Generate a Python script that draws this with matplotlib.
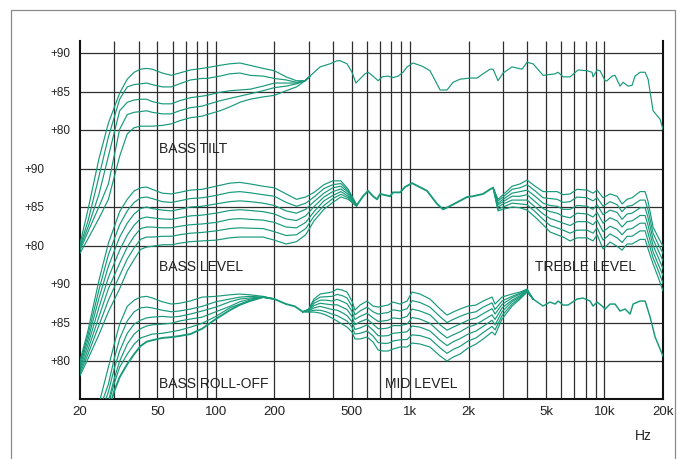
import matplotlib
matplotlib.use('Agg')
import matplotlib.pyplot as plt
import matplotlib.transforms as mtransforms
import numpy as np

plt.rcParams['font.family'] = ['Liberation Sans', 'DejaVu Sans']

GREEN = '#17997a'
GRID = '#2e2e2e'

# ── Data (dB) ─────────────────────────────────────────────────────────────────
# top panel: BASS TILT
TILT_HZ = [20, 22, 25, 28, 32, 35, 38, 41, 44, 47, 53, 59, 65, 74, 85, 90, 105, 118, 133, 150, 175, 200, 230, 260, 288]
TILT_A = [65.2, 69.7, 76.2, 80.9, 84.8, 86.6, 87.5, 87.9, 88.0, 87.9, 87.4, 87.1, 87.4, 87.8, 88.0, 88.1, 88.4, 88.6, 88.7, 88.4, 88.0, 87.7, 86.9, 86.4, 86.4]
TILT_B = [64.9, 68.2, 73.9, 79.1, 84.0, 85.6, 85.9, 86.0, 86.1, 85.9, 85.6, 85.6, 86.0, 86.5, 86.7, 86.7, 87.0, 87.3, 87.4, 87.1, 87.0, 86.7, 86.5, 86.2, 86.4]
TILT_C = [64.7, 67.4, 71.6, 76.6, 82.5, 83.6, 83.9, 84.0, 84.0, 83.7, 83.4, 83.4, 83.8, 84.2, 84.4, 84.5, 84.9, 85.1, 85.2, 85.3, 85.7, 86.1, 86.1, 86.1, 86.4]
TILT_D = [64.4, 66.8, 70.0, 73.0, 80.1, 82.0, 82.3, 82.4, 82.5, 82.3, 82.1, 82.1, 82.5, 82.9, 83.1, 83.3, 83.8, 84.1, 84.4, 84.7, 85.1, 85.5, 85.7, 86.0, 86.4]
TILT_E = [64.0, 65.9, 68.5, 71.0, 76.6, 79.5, 80.3, 80.5, 80.5, 80.5, 80.6, 80.8, 81.2, 81.6, 81.8, 82.0, 82.5, 83.0, 83.6, 84.0, 84.3, 84.5, 85.1, 85.6, 86.4]

TOP_HZ = [305, 344, 387, 421, 436, 473, 502, 526, 540, 586, 607, 644, 684, 717, 770, 816, 867, 919, 964, 1035,
          1151, 1265, 1426, 1548, 1663, 1806, 2033, 2209, 2373, 2578, 2671, 2832, 3007, 3345, 3767, 3997, 4290, 4831,
          5568, 5772, 6126, 6651, 7312, 8134, 8630, 8730, 9162, 9488, 10070, 10308, 10940, 11328, 12020, 12460,
          13220, 13860, 14360, 15240, 16180, 16760, 17780, 19320, 20000]
TOP_DB = [87.0, 88.2, 88.6, 89.0, 89.0, 88.6, 87.5, 86.1, 86.4, 87.3, 87.5, 87.0, 86.4, 86.9, 87.0, 86.8, 87.0, 87.5, 88.2, 88.7,
          88.3, 87.7, 85.2, 85.2, 86.2, 86.6, 86.75, 86.75, 87.3, 87.9, 87.9, 86.4, 87.4, 88.2, 87.9, 88.8, 88.6, 87.1,
          87.3, 87.5, 86.9, 86.9, 87.8, 87.7, 87.5, 86.9, 87.8, 87.7, 86.4, 86.4, 87.0, 87.1, 85.7, 86.2,
          85.7, 85.8, 87.0, 87.5, 87.5, 86.6, 82.5, 81.4, 80.1]

# middle panel: BASS LEVEL / TREBLE LEVEL
BL_HZ = [20, 22, 25, 28, 32, 35, 38, 41, 44, 47, 53, 59, 65, 74, 85, 100, 118, 133, 150, 175, 200, 230, 260, 290, 320, 360, 400, 440, 480, 530]
BL_1 = [65.0, 69.0, 75.4, 80.3, 84.4, 86.0, 87.1, 87.5, 87.6, 87.3, 86.8, 86.7, 86.9, 87.2, 87.3, 87.7, 88.1, 88.2, 88.0, 87.7, 87.5, 86.7, 86.0, 86.3, 86.9, 87.9, 88.4, 88.4, 87.3, 85.3]
BL_2 = [64.7, 68.4, 74.2, 78.8, 82.7, 84.5, 85.6, 86.2, 86.3, 86.1, 85.7, 85.6, 85.8, 86.1, 86.2, 86.5, 86.9, 87.0, 86.85, 86.6, 86.4, 85.6, 85.1, 85.5, 86.3, 87.4, 87.9, 88.05, 87.1, 85.3]
BL_3 = [64.4, 67.8, 73.1, 77.3, 81.1, 82.9, 84.1, 84.8, 85.0, 84.8, 84.6, 84.5, 84.7, 85.0, 85.1, 85.4, 85.7, 85.8, 85.7, 85.5, 85.2, 84.5, 84.2, 84.7, 85.7, 86.8, 87.5, 87.7, 86.9, 85.2]
BL_4 = [64.05, 67.15, 71.9, 75.85, 79.4, 81.35, 82.65, 83.5, 83.7, 83.6, 83.45, 83.4, 83.6, 83.85, 83.95, 84.2, 84.55, 84.65, 84.55, 84.4, 84.1, 83.45, 83.25, 83.85, 85.05, 86.3, 87.0, 87.35, 86.65, 85.2]
BL_5 = [63.7, 66.5, 70.7, 74.4, 77.7, 79.8, 81.2, 82.2, 82.4, 82.4, 82.3, 82.3, 82.5, 82.7, 82.8, 83.0, 83.4, 83.5, 83.4, 83.3, 83.0, 82.4, 82.3, 83.0, 84.4, 85.8, 86.5, 87.0, 86.4, 85.15]
BL_6 = [63.4, 65.9, 69.6, 72.9, 76.1, 78.25, 79.7, 80.8, 81.1, 81.1, 81.2, 81.2, 81.4, 81.6, 81.7, 81.9, 82.2, 82.3, 82.25, 82.2, 81.8, 81.3, 81.4, 82.2, 83.8, 85.2, 86.1, 86.65, 86.2, 85.1]
BL_7 = [63.1, 65.3, 68.4, 71.4, 74.4, 76.7, 78.2, 79.5, 79.8, 79.9, 80.1, 80.1, 80.3, 80.5, 80.6, 80.7, 81.0, 81.1, 81.1, 81.1, 80.7, 80.2, 80.5, 81.4, 83.2, 84.7, 85.6, 86.3, 86.0, 85.1]

MID_HZ = [530, 572, 607, 644, 676, 700, 788, 816, 887, 941, 1023, 1098, 1221, 1376, 1477, 1567, 1742, 1962, 2106, 2373, 2578, 2671]
MID_DB = [85.2, 86.4, 87.1, 86.4, 86.0, 86.7, 86.4, 86.9, 86.9, 87.6, 88.1, 87.7, 87.1, 85.4, 84.7, 85.0, 85.6, 86.3, 86.4, 86.7, 87.3, 87.5]

TR_HZ = [2832, 3007, 3345, 3678, 3997, 4393, 4831, 5248, 5702, 6126, 6651, 7226, 8134, 8730, 9162, 9834, 10684,
         11608, 12316, 13070, 13860, 15240, 16180, 16760, 17780, 18872, 20000]
TR_1 = [86.0, 86.6, 87.7, 88.0, 88.5, 87.7, 87.0, 87.0, 87.0, 86.6, 86.7, 87.3, 87.2, 86.8, 87.2, 86.2, 86.7, 86.4, 85.4, 86.0, 86.2, 87.0, 87.0, 85.7, 82.4, 81.1, 79.9]
TR_2 = [85.8, 86.3, 87.3, 87.5, 87.9, 87.1, 86.2, 86.1, 86.0, 85.6, 85.7, 86.3, 86.2, 85.8, 86.2, 85.1, 85.7, 85.3, 84.4, 85.1, 85.2, 85.9, 85.9, 84.6, 81.6, 80.2, 79.0]
TR_3 = [85.5, 86.0, 86.8, 87.0, 87.2, 86.4, 85.5, 85.2, 85.1, 84.7, 84.7, 85.2, 85.1, 84.7, 85.3, 84.0, 84.6, 84.3, 83.4, 84.1, 84.2, 84.9, 84.9, 83.6, 80.8, 79.4, 78.0]
TR_4 = [85.3, 85.7, 86.4, 86.4, 86.6, 85.7, 84.8, 84.4, 84.2, 83.8, 83.6, 84.2, 84.1, 83.7, 84.3, 82.9, 83.6, 83.2, 82.4, 83.1, 83.2, 83.9, 83.9, 82.6, 80.0, 78.5, 77.0]
TR_5 = [85.0, 85.4, 85.9, 85.9, 85.9, 85.0, 84.1, 83.5, 83.2, 82.9, 82.6, 83.1, 83.1, 82.7, 83.3, 81.8, 82.5, 82.1, 81.4, 82.1, 82.2, 82.9, 82.9, 81.6, 79.2, 77.6, 76.1]
TR_6 = [84.7, 85.0, 85.5, 85.4, 85.3, 84.4, 83.4, 82.6, 82.3, 82.0, 81.6, 82.0, 82.0, 81.6, 82.3, 80.7, 81.5, 81.0, 80.4, 81.2, 81.2, 81.9, 81.9, 80.6, 78.4, 76.8, 75.1]
TR_7 = [84.5, 84.7, 85.0, 84.9, 84.6, 83.7, 82.7, 81.75, 81.4, 81.1, 80.6, 81.0, 81.0, 80.6, 81.4, 79.55, 80.45, 79.9, 79.4, 80.2, 80.2, 80.8, 80.8, 79.55, 77.6, 75.9, 74.1]

# bottom panel: BASS ROLL-OFF / MID LEVEL
RO_HZ = [20, 25, 28, 30, 32, 35, 38, 41, 44, 47, 53, 59, 65, 74, 85, 100, 118, 133, 150, 175]
RO_1 = [66.6, 74.4, 79.2, 82.2, 84.8, 87.1, 87.9, 88.3, 88.4, 88.2, 87.7, 87.4, 87.5, 87.8, 88.3, 88.4, 88.6, 88.7, 88.6, 88.4]
RO_2 = [64.7, 73.5, 77.0, 80.3, 82.9, 85.2, 86.4, 86.9, 87.0, 86.9, 86.6, 86.4, 86.5, 86.75, 87.1, 87.7, 88.05, 88.3, 88.4, 88.3]
RO_3 = [63.4, 72.5, 76.0, 79.0, 81.3, 83.6, 84.8, 85.3, 85.6, 85.7, 85.8, 85.7, 85.8, 86.1, 86.5, 87.0, 87.7, 88.05, 88.2, 88.3]
RO_4 = [62.1, 71.8, 74.8, 77.7, 80.0, 82.2, 83.5, 84.2, 84.55, 84.7, 84.8, 84.9, 85.2, 85.45, 85.7, 86.4, 87.1, 87.7, 88.05, 88.3]
RO_5 = [60.8, 71.2, 74.4, 77.1, 79.2, 80.9, 82.2, 83.0, 83.25, 83.5, 83.6, 83.8, 84.0, 84.4, 84.9, 85.8, 86.9, 87.4, 87.9, 88.3]
RO_6 = [59.5, 69.9, 73.5, 76.1, 77.9, 79.6, 80.9, 81.95, 82.5, 82.7, 83.0, 83.1, 83.25, 83.5, 84.2, 85.45, 86.6, 87.3, 87.8, 88.3]

LOW_HZ = [175, 200, 230, 255, 280]
LOW_DB = [88.3, 88.05, 87.4, 87.1, 86.4]

ML_HZ = [280, 300, 320, 344, 369, 396, 421, 446, 473, 502, 520, 552, 600, 644, 684, 725, 770, 816, 887, 964, 1023,
         1124, 1265, 1426, 1548, 1663, 1806, 1986, 2183, 2373, 2638, 2734, 2970, 3345, 3678, 3997, 4290]
ML_1 = [86.4, 86.75, 88.05, 88.7, 88.83, 88.96, 89.35, 89.22, 88.96, 87.79, 86.62, 87.27, 87.79, 87.14, 87.01, 87.14, 87.27, 87.66, 87.4, 87.79, 88.96,
        88.7, 88.05, 86.75, 85.97, 86.36, 86.75, 87.14, 87.27, 87.79, 88.31, 87.4, 88.31, 88.7, 88.96, 89.35, 88.05]
ML_2 = [86.4, 86.7, 87.8, 88.3, 88.35, 88.4, 88.65, 88.5, 88.2, 87.1, 86.0, 86.5, 87.0, 86.4, 86.1, 86.2, 86.3, 86.65, 86.5, 86.8, 87.85,
        87.6, 87.0, 85.75, 85.0, 85.4, 85.8, 86.2, 86.4, 87.0, 87.55, 86.7, 87.8, 88.4, 88.8, 89.3, 88.05]
ML_3 = [86.4, 86.6, 87.5, 87.9, 87.9, 87.8, 88.0, 87.75, 87.45, 86.45, 85.4, 85.8, 86.2, 85.6, 85.15, 85.2, 85.3, 85.6, 85.5, 85.8, 86.75,
        86.5, 86.0, 84.7, 84.0, 84.4, 84.8, 85.3, 85.6, 86.15, 86.8, 86.1, 87.35, 88.2, 88.7, 89.2, 88.05]
ML_4 = [86.4, 86.55, 87.2, 87.5, 87.4, 87.3, 87.3, 87.0, 86.7, 85.8, 84.7, 85.1, 85.45, 84.8, 84.2, 84.2, 84.3, 84.6, 84.6, 84.8, 85.65,
        85.45, 84.9, 83.7, 83.0, 83.4, 83.8, 84.4, 84.75, 85.3, 86.0, 85.4, 86.9, 87.9, 88.5, 89.15, 88.05]
ML_5 = [86.4, 86.5, 86.9, 87.1, 86.9, 86.7, 86.6, 86.3, 85.9, 85.1, 84.1, 84.3, 84.7, 84.0, 83.3, 83.25, 83.3, 83.6, 83.7, 83.8, 84.55,
        84.4, 83.9, 82.7, 82.0, 82.5, 82.9, 83.5, 83.9, 84.5, 85.3, 84.7, 86.4, 87.7, 88.35, 89.1, 88.05]
ML_6 = [86.4, 86.4, 86.6, 86.6, 86.4, 86.1, 85.9, 85.55, 85.2, 84.4, 83.5, 83.6, 83.9, 83.25, 82.4, 82.3, 82.3, 82.6, 82.75, 82.8, 83.4,
        83.3, 82.9, 81.7, 81.0, 81.5, 81.9, 82.6, 83.0, 83.7, 84.5, 84.05, 85.9, 87.4, 88.2, 89.0, 88.05]
ML_7 = [86.4, 86.36, 86.36, 86.23, 85.97, 85.58, 85.19, 84.81, 84.42, 83.77, 82.86, 82.86, 83.12, 82.47, 81.43, 81.3, 81.3, 81.56, 81.82, 81.82, 82.34,
        82.21, 81.82, 80.65, 80.0, 80.52, 80.91, 81.69, 82.21, 82.86, 83.77, 83.38, 85.45, 87.14, 88.05, 88.96, 88.05]

HF_HZ = [4290, 4831, 5248, 5568, 5772, 6126, 6496, 7226, 7758, 8428, 8730, 9162, 9720, 10070, 10684, 11328, 12020,
         12766, 13542, 14032, 15240, 16180, 17168, 18214, 19320, 20000]
HF_DB = [88.05, 87.14, 87.66, 87.4, 87.79, 87.27, 87.27, 88.05, 88.18, 87.79, 87.14, 87.66, 87.14, 86.75, 87.4, 87.4, 86.49,
         86.75, 86.1, 87.4, 87.79, 87.79, 85.71, 83.12, 81.56, 80.65]

X_TICKS = [20, 50, 100, 200, 500, 1000, 2000, 5000, 10000, 20000]
X_LABELS = ['20', '50', '100', '200', '500', '1k', '2k', '5k', '10k', '20k']
Y_LABELS = ['+80', '+85', '+90']


def join(*parts):
    hz, db = [], []
    for f, v in parts:
        hz += list(f)
        db += list(v)
    return np.array(hz, float), np.array(db, float)


# (curve, panel offset, line width) -- panel offset: bottom 0, middle 15, top 30
THIN, BOLD = 0.85, 1.35
curves = []
for v in (TILT_A, TILT_B, TILT_C, TILT_D, TILT_E):
    curves.append((join((TILT_HZ, v), (TOP_HZ[:1], TOP_DB[:1])), 30, THIN))
curves.append((join((TOP_HZ, TOP_DB)), 30, THIN))

for v in (BL_1, BL_2, BL_3, BL_4, BL_5, BL_6, BL_7):
    curves.append((join((BL_HZ, v), (MID_HZ[:1], MID_DB[:1])), 15, THIN))
curves.append((join((MID_HZ, MID_DB)), 15, BOLD))
for v in (TR_1, TR_2, TR_3, TR_4, TR_5, TR_6, TR_7):
    curves.append((join((MID_HZ[-1:], MID_DB[-1:]), (TR_HZ, v)), 15, THIN))

for v in (RO_1, RO_2, RO_3, RO_4, RO_5):
    curves.append((join((RO_HZ, v), (LOW_HZ[1:2], LOW_DB[1:2])), 0, THIN))
curves.append((join((RO_HZ, RO_6), (LOW_HZ[1:], LOW_DB[1:])), 0, BOLD))
for v in (ML_1, ML_2, ML_3, ML_4, ML_5, ML_6, ML_7):
    curves.append((join((ML_HZ, v)), 0, THIN))
curves.append((join((HF_HZ, HF_DB)), 0, 1.05))

# ── Figure ────────────────────────────────────────────────────────────────────
fig = plt.figure(figsize=(6.83, 4.60), dpi=100)
fig.patch.set_facecolor('white')
ax = fig.add_axes([80 / 683, 1 - 400 / 460, 583 / 683, 358 / 460])
ax.set_xscale('log')
ax.set_xlim(20, 20000)
ax.set_ylim(75.07, 121.56)

# grid
vlines = [f * m for m in (10, 100, 1000) for f in range(1, 10)] + [10000]
vlines = sorted(set(f for f in vlines if 20 < f < 20000))
ax.vlines(vlines, 75.07, 121.56, color=GRID, lw=0.9, zorder=1)
for off in (0, 15, 30):
    for val in (80, 85, 90):
        ax.axhline(val + off, color=GRID, lw=0.9, zorder=1)

for (hz, db), off, lw in curves:
    ax.plot(hz, db + off, color=GREEN, lw=lw, zorder=3, solid_joinstyle='round')

for side in ('left', 'bottom', 'right'):
    ax.spines[side].set_linewidth(1.5)
    ax.spines[side].set_color('#111111')
ax.spines['top'].set_visible(False)

ax.set_xticks(X_TICKS)
ax.set_xticklabels(X_LABELS, fontsize=9.5, color='#222222')
ax.xaxis.set_minor_locator(matplotlib.ticker.NullLocator())
ax.tick_params(axis='x', length=0, pad=4)
ax.set_yticks([])

# per-panel y labels (middle panel set further left)
trans = mtransforms.blended_transform_factory(ax.transAxes, ax.transData)
for off, xpos in ((30, -10 / 583), (15, -36 / 583), (0, -10 / 583)):
    for lab in Y_LABELS:
        ax.text(xpos, int(lab) + off, lab, transform=trans, ha='right', va='center',
                fontsize=8.5, color='#222222')

txt = dict(fontsize=10, color='#222222', ha='left', va='baseline')
ax.text(51.1, 107.1, 'BASS TILT', **txt)
ax.text(51.1, 91.82, 'BASS LEVEL', **txt)
ax.text(4393, 91.82, 'TREBLE LEVEL', **txt)
ax.text(51.1, 76.62, 'BASS ROLL-OFF', **txt)
ax.text(742, 76.62, 'MID LEVEL', **txt)

fig.text(643 / 683, 1 - 436 / 460, 'Hz', fontsize=10, color='#222222', ha='center', va='center')

# outer frame (open at the bottom)
fig.add_artist(plt.Rectangle((11 / 683, -0.1), 664 / 683, 1.1 - 11 / 460, transform=fig.transFigure,
                             fill=False, ec='#8a8a8a', lw=0.9))

fig.savefig('out.png', dpi=100)
plt.close(fig)
